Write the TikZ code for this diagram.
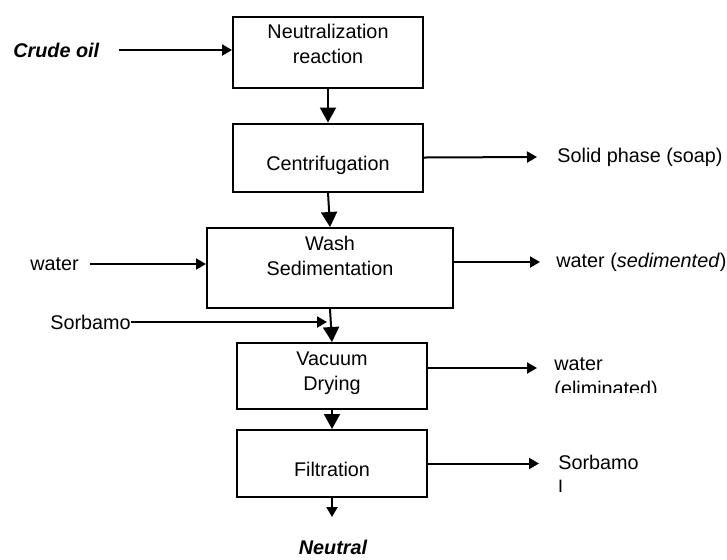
\documentclass[tikz,border=0pt]{standalone}
\usepackage{fontspec}
\setmainfont{Liberation Sans}
\usetikzlibrary{arrows.meta, positioning, calc}
\newcommand{\flowsize}{\fontsize{9.9}{12.5}\selectfont}

\begin{document}
\begin{tikzpicture}[
    x=0.5pt, y=-0.5pt,
    font=\flowsize,
    stage/.style={
      draw,
      line width=1pt,
      inner sep=0pt,
    },
    caption/.style={
      align=center,
      inner sep=0pt,
      font=\flowsize,
    },
    feed/.style={
      inner sep=0pt,
      anchor=west,
    },
    mainflow/.style={
      line width=1pt,
      -{Triangle[length=7.5pt,width=8pt]},
    },
    sideflow/.style={
      line width=1pt,
      -{Triangle[length=5pt,width=5.5pt]},
    },
  ]
  \useasboundingbox (0,0) rectangle (727,559);

  % process stages
  \node[stage, minimum width=95pt, minimum height=35.5pt,
    label={[caption, yshift=4.25pt]center:Neutralization\\reaction}] (neut) at (328,52.5) {};
  \node[stage, minimum width=95pt, minimum height=34pt,
    label={[caption, yshift=-3.75pt]center:Centrifugation}] (centri) at (328,157.5) {};
  \node[stage, minimum width=123pt, minimum height=40pt,
    label={[caption, yshift=6pt]center:Wash\\Sedimentation}] (wash) at (330,268) {};
  \node[stage, minimum width=95pt, minimum height=33pt,
    label={[caption, yshift=1.6pt]center:Vacuum\\Drying}] (vacuum) at (332,376) {};
  \node[stage, minimum width=95pt, minimum height=33.5pt,
    label={[caption, yshift=-3pt]center:Filtration}] (filt) at (332,463.5) {};

  % inputs
  \node[feed, font=\flowsize\bfseries\itshape] (crude) at (13,50) {Crude oil};
  \node[feed] (water) at (30,264) {water};
  \node[feed] (sorb) at (50,322) {Sorbamo};
  \coordinate (mix) at (327,322);

  % outputs
  \node[feed] (soap) at (557,157) {Solid phase (soap)};
  \node[feed] (sed) at (556,262) {water (\textit{sedimented})};
  \begin{scope}
    \clip (540,340) rectangle (727,392);
    \node[feed, anchor=north west, align=left] (elim) at (554,357) {water\\(eliminated)};
  \end{scope}
  \begin{scope}
    \clip (540,440) rectangle (727,491);
    \node[feed, anchor=north west, align=left] (sorbout) at (558,455) {Sorbamo\\l};
  \end{scope}
  \node[font=\flowsize\bfseries\itshape, inner sep=0pt] (prod) at (333,547) {Neutral};
  \coordinate (outlet) at (333,517);

  % main line
  \draw[mainflow] (neut.south) -- (centri.north);
  \draw[mainflow] (centri.south) -- (wash.north);
  \draw[mainflow] (wash.south) -- (vacuum.north);
  \draw[mainflow] (vacuum.south) -- (filt.north);
  \draw[sideflow] (filt.south) -- (filt.south |- outlet);

  % side streams
  \draw[sideflow] ([xshift=9.5pt]crude.east) -- (crude.east -| neut.west);
  \draw[sideflow] ([xshift=5.5pt]water.east) -- (water.east -| wash.west);
  \draw[sideflow] (sorb.east) -- (mix);
  \draw[sideflow] (centri.east) -- ([xshift=-10pt]soap.west);
  \draw[sideflow] (wash.east |- sed.west) -- ([xshift=-8pt]sed.west);
  \draw[sideflow, shorten >=8.5pt] ([yshift=4pt]vacuum.east) -- ([yshift=4pt]vacuum.east -| elim.west);
  \draw[sideflow, shorten >=9.5pt] (filt.east) -- (filt.east -| sorbout.west);
\end{tikzpicture}
\end{document}
